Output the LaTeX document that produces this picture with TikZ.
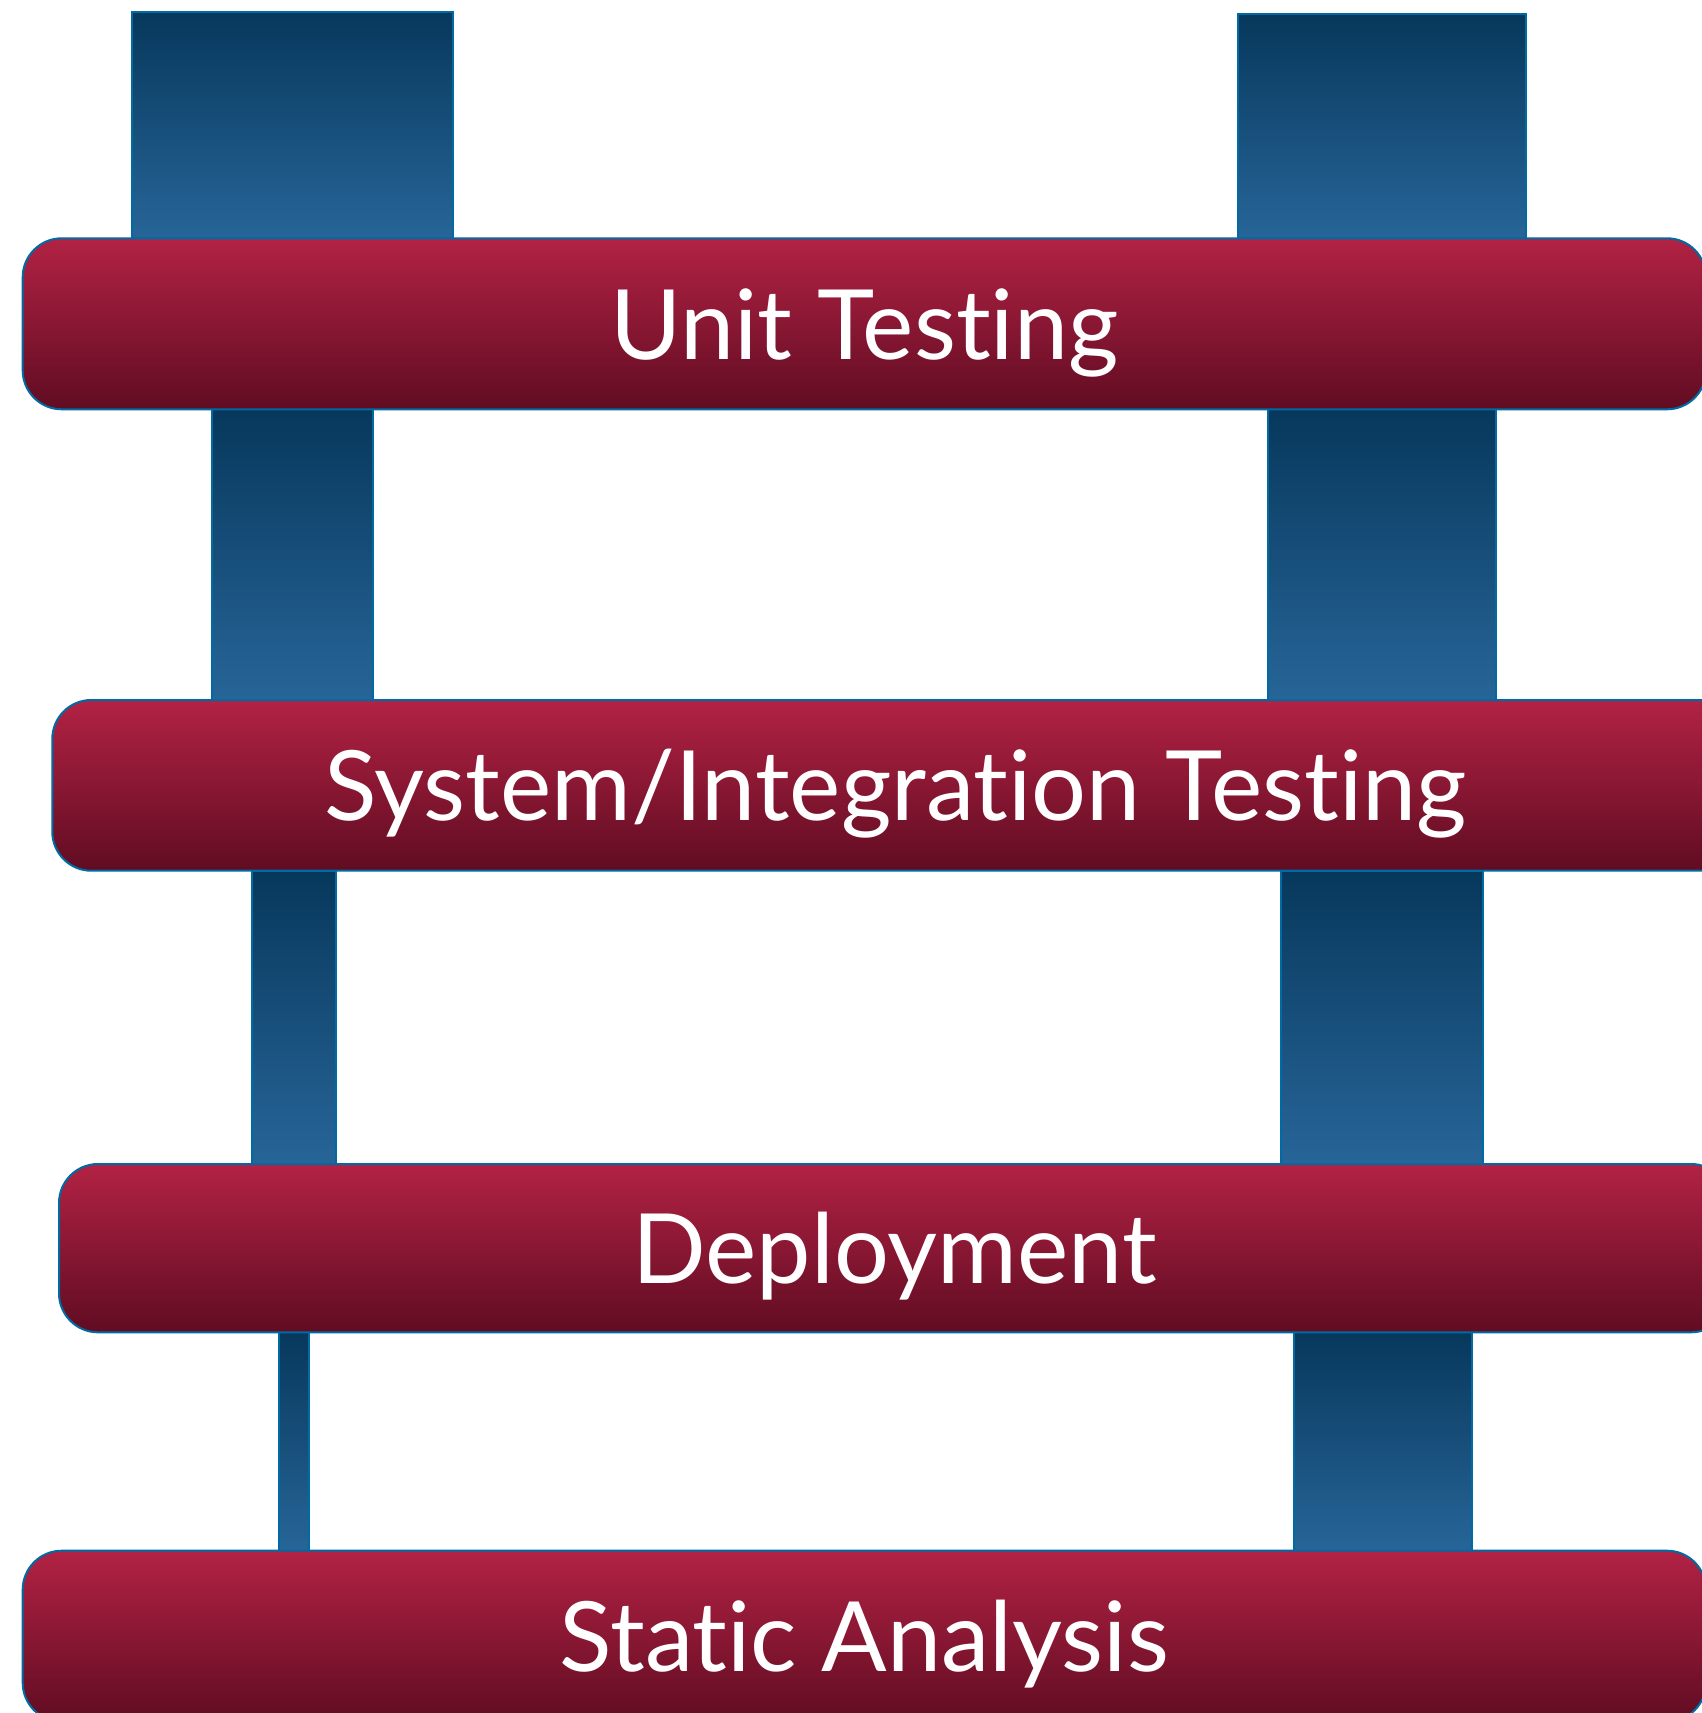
\documentclass[tikz,border=0pt]{standalone}
\usepackage{fontspec}
\setmainfont{Lato}[Ligatures={NoCommon,NoRare,NoContextual}]
\definecolor{pillartop}{RGB}{7,56,92}
\definecolor{pillarbot}{RGB}{39,101,152}
\definecolor{bartop}{RGB}{178,34,68}
\definecolor{barbot}{RGB}{96,12,34}
\definecolor{rim}{RGB}{0,106,162}
\tikzset{
  pillar/.style={rectangle, draw=rim, line width=2pt, top color=pillartop,
    bottom color=pillarbot, inner sep=0pt, outer sep=0pt},
  bar/.style={rectangle, draw=rim, line width=2pt, rounded corners=39pt,
    top color=bartop, bottom color=barbot, inner sep=0pt, outer sep=0pt},
  barlabel/.style={anchor=base, inner sep=0pt, text=white,
    font=\fontsize{97}{100}\selectfont},
}
% box given by its corners: name, x1, y1, x2, y2
\newcommand\pillarbox[5]{%
  \node[pillar, minimum width={(#4-#2)*1pt}, minimum height={(#5-#3)*1pt}]
    (#1) at ({(#2+#4)/2},{(#3+#5)/2}) {};}
\newcommand\barbox[5]{%
  \node[bar, minimum width={(#4-#2)*1pt}, minimum height={(#5-#3)*1pt}]
    (#1) at ({(#2+#4)/2},{(#3+#5)/2}) {};}
\begin{document}
\begin{tikzpicture}[x=1pt, y=-1pt]
\useasboundingbox (0,0) rectangle (1702,1713);
\clip (0,0) rectangle (1702,1713);

% rails between the levels
\pillarbox{p1l}{131.7}{11.7}{453.3}{238.3}
\pillarbox{p1r}{1238.3}{14.3}{1525.7}{238.3}
\pillarbox{p2l}{211.7}{409.3}{373.3}{700}
\pillarbox{p2r}{1267.7}{409.3}{1496.3}{700}
\pillarbox{p3l}{251.7}{870.7}{335.7}{1164}
\pillarbox{p3r}{1281}{870.7}{1482.7}{1164}
\pillarbox{p4l}{278.7}{1332.3}{309.3}{1550.7}
\pillarbox{p4r}{1294.3}{1332.3}{1472.3}{1550.7}

% the four levels
\barbox{b1}{22.7}{238.3}{1706}{409.3}
\barbox{b2}{52.3}{700}{1739}{870.7}
\barbox{b3}{59}{1164}{1730}{1332.3}
\barbox{b4}{22.7}{1550.7}{1706}{1721.7}

% labels, caps centred on each level
\foreach \b/\t in {b1/{Unit Testing}, b2/{System/Integration Testing},
                   b3/{Deployment}, b4/{Static Analysis}}
  \node[barlabel] (\b t) at ([yshift=-35.5pt]\b.center) {\t};
\end{tikzpicture}
\end{document}
